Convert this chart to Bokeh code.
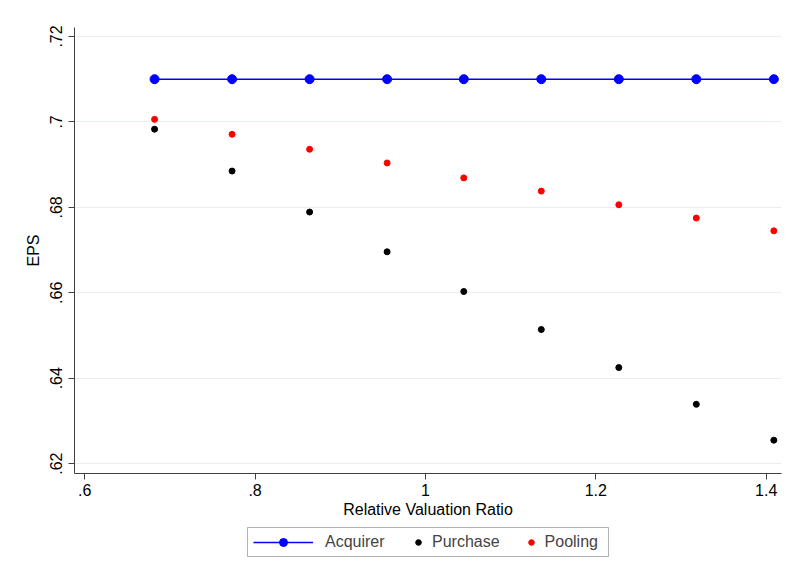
from bokeh.plotting import figure
from bokeh.layouts import column
from bokeh.models import (ColumnDataSource, Legend, LegendItem, FixedTicker,
                          BoxAnnotation, Range1d)
from bokeh.embed import file_html
from bokeh.resources import INLINE

# ---- data ----
ratio = [0.682, 0.773, 0.864, 0.955, 1.045, 1.136, 1.227, 1.318, 1.409]
acquirer = [0.710, 0.710, 0.710, 0.710, 0.710, 0.710, 0.710, 0.710, 0.710]
purchase = [0.6983, 0.6885, 0.6789, 0.6696, 0.6603, 0.6514, 0.6425, 0.6339, 0.6255]
pooling = [0.7006, 0.6971, 0.6936, 0.6904, 0.6869, 0.6838, 0.6806, 0.6775, 0.6745]

x_ticks = [0.6, 0.8, 1.0, 1.2, 1.4]
x_tick_labels = [".6", ".8", "1", "1.2", "1.4"]
y_ticks = [0.62, 0.64, 0.66, 0.68, 0.70, 0.72]
y_tick_labels = [".62", ".64", ".66", ".68", ".7", ".72"]
series_names = ["Acquirer", "Purchase", "Pooling"]

FONT = "Liberation Sans"
BLUE, BLACK, RED = "#0000ff", "black", "#ff0000"

src = ColumnDataSource(dict(x=ratio, acq=acquirer, pur=purchase, pool=pooling))

p = figure(width=787, height=520, output_backend="svg", toolbar_location=None,
           x_range=Range1d(0.588, 1.418), y_range=Range1d(0.6177, 0.7221),
           min_border_left=74, min_border_right=6, min_border_top=27,
           min_border_bottom=45)
p.background_fill_color = "white"
p.border_fill_color = "white"
p.outline_line_color = None

# grid
p.xgrid.visible = False
p.ygrid.grid_line_color = "#e6eef0"
p.ygrid.grid_line_width = 1
p.ygrid.ticker = FixedTicker(ticks=y_ticks)

# axes
for ax in (p.xaxis[0], p.yaxis[0]):
    ax.axis_line_color = "#404040"
    ax.axis_line_width = 1
    ax.major_tick_line_color = "#404040"
    ax.major_tick_out = 6
    ax.major_tick_in = 0
    ax.minor_tick_line_color = None
    ax.major_label_text_font = FONT
    ax.major_label_text_font_size = "16px"
    ax.major_label_text_color = "black"
    ax.axis_label_text_font = FONT
    ax.axis_label_text_font_size = "16px"
    ax.axis_label_text_font_style = "normal"
    ax.axis_label_text_color = "black"

p.xaxis.ticker = FixedTicker(ticks=x_ticks)
p.xaxis.major_label_overrides = {t: l for t, l in zip(x_ticks, x_tick_labels)}
p.xaxis.axis_label = "Relative Valuation Ratio"
p.xaxis.major_label_standoff = 4
p.xaxis.axis_label_standoff = 2

p.yaxis.ticker = FixedTicker(ticks=y_ticks)
p.yaxis.major_label_overrides = {t: l for t, l in zip(y_ticks, y_tick_labels)}
p.yaxis.major_label_orientation = "vertical"
p.yaxis.axis_label = "EPS"
p.yaxis.major_label_standoff = 6
p.yaxis.axis_label_standoff = 6

# glyphs
p.line("x", "acq", source=src, line_color=BLUE, line_width=1.6)
p.scatter("x", "acq", source=src, size=9, fill_color=BLUE, line_color=BLUE)
p.scatter("x", "pur", source=src, size=6, fill_color=BLACK, line_color=BLACK)
p.scatter("x", "pool", source=src, size=6, fill_color=RED, line_color=RED)

# ---- legend strip below the plot (its frame is aligned with the plot's) ----
lg = figure(width=787, height=58, output_backend="svg", toolbar_location=None,
            x_range=Range1d(0, 1), y_range=Range1d(0, 1),
            x_axis_type=None, y_axis_type=None,
            min_border_left=74, min_border_right=6, min_border_top=0,
            min_border_bottom=0)
lg.outline_line_color = None
lg.grid.visible = False
lg.background_fill_color = "white"
lg.border_fill_color = "white"

# legend-key renderers: a single point each, placed outside the visible range
key_src = ColumnDataSource(dict(x=[-5.0], y=[-5.0]))
k_line = lg.line("x", "y", source=key_src, line_color=BLUE, line_width=1.6)
k_acq = lg.scatter("x", "y", source=key_src, size=9, fill_color=BLUE, line_color=BLUE)
k_pur = lg.scatter("x", "y", source=key_src, size=6, fill_color=BLACK, line_color=BLACK)
k_pool = lg.scatter("x", "y", source=key_src, size=6, fill_color=RED, line_color=RED)

lg.add_layout(BoxAnnotation(left=247, right=608, top=7, bottom=36,
                            left_units="canvas", right_units="canvas",
                            top_units="canvas", bottom_units="canvas",
                            fill_color="white", fill_alpha=1,
                            line_color="black", line_width=1))

leg_a = Legend(items=[LegendItem(label=series_names[0], renderers=[k_line, k_acq])],
               location=(179, 26), orientation="horizontal",
               glyph_width=60, glyph_height=20, label_standoff=12,
               padding=0, margin=0, spacing=0,
               border_line_alpha=0, background_fill_alpha=0,
               label_text_font=FONT, label_text_font_size="16px")
leg_b = Legend(items=[LegendItem(label=series_names[1], renderers=[k_pur]),
                      LegendItem(label=series_names[2], renderers=[k_pool])],
               location=(337, 26), orientation="horizontal",
               glyph_width=14, glyph_height=20, label_standoff=7,
               padding=0, margin=0, spacing=24,
               border_line_alpha=0, background_fill_alpha=0,
               label_text_font=FONT, label_text_font_size="16px")
lg.add_layout(leg_a, "center")
lg.add_layout(leg_b, "center")

layout = column(p, lg, spacing=0)
open("out.html", "w").write(file_html(layout, INLINE))
